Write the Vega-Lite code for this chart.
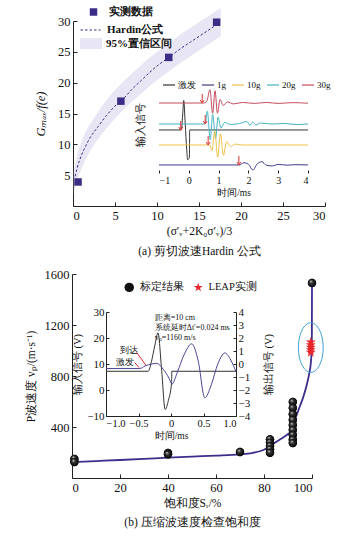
{
  "$schema": "https://vega.github.io/schema/vega-lite/v6.json",
  "width": 360,
  "height": 554,
  "autosize": {"type": "none"},
  "padding": 0,
  "background": "white",
  "config": {
    "view": {"stroke": null},
    "font": "Liberation Serif",
    "axis": {"grid": false, "zindex": 1, "domainColor": "#222", "tickColor": "#222", "labelColor": "#111", "titleColor": "#111", "labelFont": "Liberation Serif", "titleFont": "Liberation Serif", "titleFontWeight": "normal", "labelAngle": 0},
    "legend": {"labelFont": "Liberation Serif", "padding": 0, "title": null, "labelColor": "#111"},
    "text": {"font": "Liberation Serif", "color": "#111"}
  },
  "resolve": {
    "scale": {"x": "independent", "y": "independent", "color": "independent", "shape": "independent", "strokeDash": "independent", "fill": "independent", "stroke": "independent"},
    "axis": {"x": "independent", "y": "independent"}
  },
  "layer": [
    {
      "encoding": {
        "x": {"field": "x", "type": "quantitative", "scale": {"domain": [0, 30], "range": [73, 325], "nice": false, "zero": false},
          "axis": {"orient": "bottom", "offset": -348, "values": [0, 5, 10, 15, 20, 25, 30], "tickSize": -4, "labelPadding": 7, "labelFontSize": 12.5, "title": ["(σ′ᵥ+2K₀σ′ᵥ)/3", "(a) 剪切波速Hardin 公式"], "titleFontSize": 11.5, "titleLineHeight": 20, "titlePadding": 4}},
        "y": {"field": "y", "type": "quantitative", "scale": {"domain": [0, 30], "range": [206, 21], "nice": false, "zero": false},
          "axis": {"orient": "left", "offset": -73, "values": [5, 10, 15, 20, 25, 30], "tickSize": -4, "labelPadding": 7, "labelFontSize": 12.5, "title": "Gₘₐₓ/f(e)", "titleFontStyle": "italic", "titleFontSize": 12.5, "titlePadding": 10}}
      },
      "layer": [
        {
          "data": {"values": [
            {"x": 0.1, "y": 2.0, "y2": 5.6}, {"x": 0.5, "y": 4.1, "y2": 8.3}, {"x": 1, "y": 6.0, "y2": 10.4}, {"x": 2, "y": 8.8, "y2": 13.2},
            {"x": 3, "y": 10.9, "y2": 15.3}, {"x": 4, "y": 12.6, "y2": 17.2}, {"x": 5, "y": 14.2, "y2": 18.8}, {"x": 6, "y": 15.6, "y2": 20.2},
            {"x": 7, "y": 16.9, "y2": 21.5}, {"x": 8, "y": 18.1, "y2": 22.7}, {"x": 9, "y": 19.3, "y2": 23.9}, {"x": 10, "y": 20.4, "y2": 25.0},
            {"x": 11, "y": 21.4, "y2": 26.0}, {"x": 12, "y": 22.4, "y2": 27.0}, {"x": 13, "y": 23.4, "y2": 28.0}, {"x": 14, "y": 24.3, "y2": 28.9},
            {"x": 15, "y": 25.2, "y2": 29.8}, {"x": 16, "y": 26.1, "y2": 30.7}, {"x": 17, "y": 27.0, "y2": 31.6}, {"x": 17.6, "y": 27.5, "y2": 32.1}
          ]},
          "mark": {"type": "area", "interpolate": "monotone", "opacity": 1},
          "encoding": {
            "y2": {"field": "y2"},
            "fill": {"datum": "95%置信区间", "type": "nominal", "scale": {"range": ["#e8e6f5"]},
              "legend": {"orient": "none", "legendX": 80, "legendY": 32.5, "symbolType": "M-1,-0.5H1V0.5H-1Z", "symbolSize": 484, "symbolStrokeWidth": 0, "labelOffset": 4, "labelFontSize": 11, "labelFontWeight": "bold"}}
          }
        },
        {
          "data": {"values": [
            {"x": 0.25, "y": 4.8}, {"x": 0.5, "y": 6.2}, {"x": 1, "y": 8.2}, {"x": 1.5, "y": 9.7}, {"x": 2, "y": 11.0}, {"x": 3, "y": 12.9},
            {"x": 4, "y": 14.7}, {"x": 5, "y": 16.2}, {"x": 6, "y": 17.4}, {"x": 7, "y": 18.9}, {"x": 8, "y": 20.2}, {"x": 9, "y": 21.5},
            {"x": 10, "y": 22.7}, {"x": 11, "y": 23.7}, {"x": 12, "y": 24.7}, {"x": 13, "y": 25.7}, {"x": 14, "y": 26.6}, {"x": 15, "y": 27.5},
            {"x": 16, "y": 28.4}, {"x": 17, "y": 29.4}, {"x": 17.2, "y": 29.7}
          ]},
          "mark": {"type": "line", "color": "#3b2d86", "strokeWidth": 1, "interpolate": "monotone"},
          "encoding": {
            "strokeDash": {"datum": "Hardin公式", "type": "nominal", "scale": {"range": [[2.5, 2]]},
              "legend": {"orient": "none", "legendX": 80, "legendY": 19.5, "symbolType": "stroke", "symbolSize": 400, "symbolStrokeColor": "#3b2d86", "symbolStrokeWidth": 1, "labelOffset": 6, "labelFontSize": 11, "labelFontWeight": "bold"}}
          }
        },
        {
          "data": {"values": [{"x": 0.6, "y": 3.9}, {"x": 5.7, "y": 17.0}, {"x": 11.4, "y": 24.1}, {"x": 17.1, "y": 29.8}]},
          "mark": {"type": "point", "filled": true, "color": "#3b2d86", "size": 56, "opacity": 1},
          "encoding": {
            "shape": {"datum": "实测数据", "type": "nominal", "scale": {"range": ["square"]},
              "legend": {"orient": "none", "legendX": 88, "legendY": 6.5, "symbolSize": 56, "symbolFillColor": "#3b2d86", "symbolStrokeWidth": 0, "labelOffset": 10, "labelFontSize": 11, "labelFontWeight": "bold"}}
          }
        }
      ]
    },
    {
      "encoding": {
        "x": {"field": "t", "type": "quantitative", "scale": {"domain": [-1, 4], "range": [159, 308], "nice": false, "zero": false},
          "axis": {"orient": "bottom", "offset": -381, "values": [-1, 0, 1, 2, 3, 4], "domain": false, "tickSize": -3, "labelPadding": 5, "labelFontSize": 10, "title": "时间/ms", "titleFontSize": 9.5, "titlePadding": 2}},
        "y": {"field": "v", "type": "quantitative", "scale": {"domain": [0, 10], "range": [173, 75], "nice": false, "zero": false},
          "axis": {"orient": "left", "offset": -159, "labels": false, "ticks": false, "domain": false, "title": "输入信号", "titleFontSize": 10.5, "titlePadding": 14}}
      },
      "layer": [
        {
          "data": {"values": [{"box": "inset"}]},
          "mark": {"type": "rect", "fill": "white", "stroke": "#333", "strokeWidth": 0.8},
          "encoding": {"x": {"datum": -1}, "x2": {"datum": 4}, "y": {"datum": 0}, "y2": {"datum": 10}}
        },
        {
          "data": {"values": [
            {"s": "激发", "t": -1, "v": 4.39}, {"s": "激发", "t": -0.25, "v": 4.39}, {"s": "激发", "t": -0.2, "v": 6.2}, {"s": "激发", "t": -0.17, "v": 7.4},
            {"s": "激发", "t": -0.12, "v": 5.0}, {"s": "激发", "t": -0.07, "v": 2.4}, {"s": "激发", "t": -0.04, "v": 1.35}, {"s": "激发", "t": 0.02, "v": 1.6},
            {"s": "激发", "t": 0.03, "v": 4.39}, {"s": "激发", "t": 4, "v": 4.39},
            {"s": "30g", "t": -1, "v": 7.14}, {"s": "30g", "t": 0.5, "v": 7.14}, {"s": "30g", "t": 0.6, "v": 7.3}, {"s": "30g", "t": 0.71, "v": 8.5},
            {"s": "30g", "t": 0.8, "v": 6.1}, {"s": "30g", "t": 0.88, "v": 8.4}, {"s": "30g", "t": 0.96, "v": 6.1}, {"s": "30g", "t": 1.05, "v": 7.5},
            {"s": "30g", "t": 1.15, "v": 6.9}, {"s": "30g", "t": 1.3, "v": 7.25}, {"s": "30g", "t": 1.5, "v": 7.05}, {"s": "30g", "t": 1.8, "v": 7.2},
            {"s": "30g", "t": 2.2, "v": 7.1}, {"s": "30g", "t": 2.6, "v": 7.2}, {"s": "30g", "t": 3.0, "v": 7.1}, {"s": "30g", "t": 3.5, "v": 7.18}, {"s": "30g", "t": 4, "v": 7.12},
            {"s": "20g", "t": -1, "v": 5.0}, {"s": "20g", "t": 0.55, "v": 5.0}, {"s": "20g", "t": 0.62, "v": 6.3}, {"s": "20g", "t": 0.72, "v": 3.4},
            {"s": "20g", "t": 0.8, "v": 6.0}, {"s": "20g", "t": 0.9, "v": 3.5}, {"s": "20g", "t": 0.98, "v": 5.7}, {"s": "20g", "t": 1.08, "v": 4.6},
            {"s": "20g", "t": 1.2, "v": 5.15}, {"s": "20g", "t": 1.4, "v": 4.95}, {"s": "20g", "t": 1.7, "v": 5.05}, {"s": "20g", "t": 1.95, "v": 5.25},
            {"s": "20g", "t": 2.05, "v": 4.85}, {"s": "20g", "t": 2.15, "v": 5.2}, {"s": "20g", "t": 2.25, "v": 4.9}, {"s": "20g", "t": 2.4, "v": 5.1},
            {"s": "20g", "t": 2.8, "v": 5.0}, {"s": "20g", "t": 3.2, "v": 5.05}, {"s": "20g", "t": 3.6, "v": 4.95}, {"s": "20g", "t": 4, "v": 5.0},
            {"s": "10g", "t": -1, "v": 2.86}, {"s": "10g", "t": 0.7, "v": 2.86}, {"s": "10g", "t": 0.78, "v": 2.3}, {"s": "10g", "t": 0.87, "v": 4.3},
            {"s": "10g", "t": 0.97, "v": 1.6}, {"s": "10g", "t": 1.06, "v": 4.0}, {"s": "10g", "t": 1.16, "v": 1.8}, {"s": "10g", "t": 1.27, "v": 3.2},
            {"s": "10g", "t": 1.4, "v": 2.7}, {"s": "10g", "t": 1.55, "v": 2.95}, {"s": "10g", "t": 1.8, "v": 2.86}, {"s": "10g", "t": 4, "v": 2.86},
            {"s": "1g", "t": -1, "v": 0.82}, {"s": "1g", "t": 1.7, "v": 0.82}, {"s": "1g", "t": 1.85, "v": 1.05}, {"s": "1g", "t": 2.0, "v": 0.9},
            {"s": "1g", "t": 2.15, "v": 0.3}, {"s": "1g", "t": 2.3, "v": 0.95}, {"s": "1g", "t": 2.45, "v": 1.15}, {"s": "1g", "t": 2.6, "v": 0.8},
            {"s": "1g", "t": 2.8, "v": 0.72}, {"s": "1g", "t": 3.0, "v": 0.88}, {"s": "1g", "t": 3.3, "v": 0.8}, {"s": "1g", "t": 3.6, "v": 0.85}, {"s": "1g", "t": 4, "v": 0.82}
          ]},
          "mark": {"type": "line", "strokeWidth": 1, "interpolate": "monotone"},
          "encoding": {
            "stroke": {"field": "s", "type": "nominal", "scale": {"domain": ["激发", "1g", "10g", "20g", "30g"], "range": ["#333333", "#3d3b8e", "#f0c24a", "#45b3c4", "#c44e5c"]},
              "legend": {"orient": "none", "legendX": 162, "legendY": 78, "direction": "horizontal", "symbolType": "stroke", "symbolSize": 144, "symbolStrokeWidth": 1.2, "labelFontSize": 9, "labelOffset": 2, "columnPadding": 3}}
          }
        },
        {
          "data": {"values": [{"t": -0.27, "v": 4.85}, {"t": 0.45, "v": 7.6}, {"t": 0.55, "v": 5.46}, {"t": 0.65, "v": 3.32}, {"t": 1.68, "v": 1.28}]},
          "mark": {"type": "point", "shape": "M0,-1L0,1M-0.45,0.35L0,1L0.45,0.35", "filled": false, "stroke": "#e03030", "strokeWidth": 1, "size": 81, "opacity": 1}
        },
        {
          "data": {"values": [{"label": "输出信号"}]},
          "mark": {"type": "text", "angle": 270, "fontSize": 10.5, "align": "center", "baseline": "middle"},
          "encoding": {"x": {"datum": 4.33}, "y": {"datum": 5}, "text": {"field": "label"}}
        }
      ]
    },
    {
      "encoding": {
        "x": {"field": "x", "type": "quantitative", "scale": {"domain": [0, 100], "range": [72, 312], "nice": false, "zero": false},
          "axis": {"orient": "bottom", "offset": -76, "values": [0, 20, 40, 60, 80, 100], "tickSize": -4, "labelPadding": 7, "labelFontSize": 12.5, "title": ["饱和度Sᵣ/%", "(b) 压缩波速度检查饱和度"], "titleFontSize": 11.5, "titleLineHeight": 19, "titlePadding": 4}},
        "y": {"field": "y", "type": "quantitative", "scale": {"domain": [0, 1600], "range": [478, 274], "nice": false, "zero": false},
          "axis": {"orient": "left", "offset": -72, "values": [400, 800, 1200, 1600], "format": "d", "tickSize": -4, "labelPadding": 7, "labelFontSize": 12.5, "title": "P波速度 vₚ/(m·s⁻¹)", "titleFontSize": 11.5, "titlePadding": 8}}
      },
      "layer": [
        {
          "data": {"values": [
            {"x": 0, "y": 125}, {"x": 10, "y": 133}, {"x": 20, "y": 141}, {"x": 30, "y": 150}, {"x": 40, "y": 160}, {"x": 50, "y": 168},
            {"x": 60, "y": 175}, {"x": 70, "y": 185}, {"x": 75, "y": 196}, {"x": 80, "y": 222}, {"x": 82.5, "y": 250}, {"x": 85, "y": 282},
            {"x": 88, "y": 318}, {"x": 90, "y": 345}, {"x": 91, "y": 362}, {"x": 92, "y": 410}, {"x": 93, "y": 465}, {"x": 94, "y": 515},
            {"x": 95, "y": 565}, {"x": 96, "y": 615}, {"x": 97, "y": 675}, {"x": 98, "y": 745}, {"x": 99, "y": 835}, {"x": 99.5, "y": 900},
            {"x": 99.85, "y": 1000}, {"x": 99.95, "y": 1150}, {"x": 100, "y": 1530}
          ]},
          "mark": {"type": "line", "color": "#3a2f8c", "strokeWidth": 1.8, "interpolate": "monotone"}
        },
        {
          "data": {"name": "spheres", "values": [
            {"x": 1, "y": 150}, {"x": 1, "y": 125}, {"x": 40, "y": 196}, {"x": 40, "y": 186}, {"x": 70, "y": 204},
            {"x": 82.5, "y": 303}, {"x": 82.5, "y": 277}, {"x": 82.5, "y": 251}, {"x": 82.5, "y": 225}, {"x": 82.5, "y": 198},
            {"x": 92, "y": 596}, {"x": 92, "y": 549}, {"x": 92, "y": 500}, {"x": 92, "y": 455}, {"x": 92, "y": 415}, {"x": 92, "y": 376},
            {"x": 92, "y": 337}, {"x": 92, "y": 300}, {"x": 92, "y": 274}, {"x": 100, "y": 1530}
          ]},
          "mark": {"type": "point", "filled": true, "size": 70, "opacity": 1, "strokeWidth": 0},
          "encoding": {
            "shape": {"datum": "标定结果", "type": "nominal", "scale": {"domain": ["标定结果", "LEAP实测"], "range": ["circle", "M0,-1L0.225,-0.309L0.951,-0.309L0.363,0.118L0.588,0.809L0,0.382L-0.588,0.809L-0.363,0.118L-0.951,-0.309L-0.225,-0.309Z"]},
              "legend": {"orient": "none", "legendX": 124, "legendY": 282, "direction": "horizontal", "symbolSize": 90, "symbolStrokeWidth": 0, "labelFontSize": 10.5, "labelOffset": 5, "columnPadding": 9}},
            "color": {"datum": "标定结果", "type": "nominal", "scale": {"domain": ["标定结果", "LEAP实测"], "range": ["#111111", "#e8262b"]},
              "legend": {"orient": "none", "legendX": 124, "legendY": 282, "direction": "horizontal", "symbolSize": 90, "symbolStrokeWidth": 0, "labelFontSize": 10.5, "labelOffset": 5, "columnPadding": 9}}
          }
        },
        {
          "data": {"values": [{"x": 99.5, "y": 1065}, {"x": 99.5, "y": 1045}, {"x": 99.5, "y": 1025}, {"x": 99.5, "y": 1005}, {"x": 99.5, "y": 985}]},
          "mark": {"type": "point", "filled": true, "size": 110, "opacity": 1, "strokeWidth": 0},
          "encoding": {
            "shape": {"datum": "LEAP实测", "type": "nominal", "scale": {"domain": ["标定结果", "LEAP实测"], "range": ["circle", "M0,-1L0.225,-0.309L0.951,-0.309L0.363,0.118L0.588,0.809L0,0.382L-0.588,0.809L-0.363,0.118L-0.951,-0.309L-0.225,-0.309Z"]},
              "legend": {"orient": "none", "legendX": 124, "legendY": 282, "direction": "horizontal", "symbolSize": 90, "symbolStrokeWidth": 0, "labelFontSize": 10.5, "labelOffset": 5, "columnPadding": 9}},
            "color": {"datum": "LEAP实测", "type": "nominal", "scale": {"domain": ["标定结果", "LEAP实测"], "range": ["#111111", "#e8262b"]},
              "legend": {"orient": "none", "legendX": 124, "legendY": 282, "direction": "horizontal", "symbolSize": 90, "symbolStrokeWidth": 0, "labelFontSize": 10.5, "labelOffset": 5, "columnPadding": 9}}
          }
        },
        {
          "data": {"name": "spheres"},
          "mark": {"type": "point", "filled": true, "size": 70, "opacity": 1, "strokeWidth": 0,
            "fill": {"gradient": "radial", "x1": 0.35, "y1": 0.3, "r1": 0, "x2": 0.5, "y2": 0.5, "r2": 0.55, "stops": [{"offset": 0, "color": "#e8e8e8"}, {"offset": 0.35, "color": "#333333"}, {"offset": 1, "color": "#000000"}]}}
        },
        {
          "data": {"values": [{"x": 99.5, "y": 1023}]},
          "mark": {"type": "point", "shape": "M-0.5,0A0.5,1,0,1,0,0.5,0A0.5,1,0,1,0,-0.5,0Z", "filled": false, "stroke": "#3d9fd6", "strokeWidth": 1, "size": 2450, "opacity": 1}
        },
        {
          "data": {"values": [{"label": "Sᵣ≈99.5%"}]},
          "mark": {"type": "text", "fontSize": 12.5, "align": "left", "baseline": "middle"},
          "encoding": {"x": {"datum": 77}, "y": {"datum": 1262}, "text": {"field": "label"}}
        }
      ]
    },
    {
      "resolve": {"scale": {"y": "independent"}, "axis": {"y": "independent"}},
      "layer": [
        {
          "encoding": {
            "x": {"field": "t", "type": "quantitative", "scale": {"domain": [-1, 1], "range": [106, 236], "nice": false, "zero": false},
              "axis": {"orient": "bottom", "offset": -138, "values": [-1, -0.5, 0, 0.5, 1], "labelExpr": "datum.value == 0 ? '0' : format(datum.value, '.1f')", "tickSize": -3, "labelPadding": 5, "labelFontSize": 10.5, "title": "时间/ms", "titleFontSize": 9.5, "titlePadding": 2}},
            "y": {"field": "v", "type": "quantitative", "scale": {"domain": [-10, 30], "range": [416, 312], "nice": false, "zero": false},
              "axis": {"orient": "left", "offset": -106, "values": [-10, 0, 10, 20, 30], "tickSize": -3, "labelPadding": 5, "labelFontSize": 11, "title": "输入信号 (V)", "titleFontSize": 10.5, "titlePadding": 4}}
          },
          "layer": [
            {
              "data": {"values": [
                {"t": -1, "v": 7.2}, {"t": -0.35, "v": 7.2}, {"t": -0.3, "v": 11}, {"t": -0.25, "v": 17}, {"t": -0.2, "v": 22},
                {"t": -0.145, "v": 8}, {"t": -0.09, "v": -7.5}, {"t": -0.04, "v": -4}, {"t": 0.01, "v": 3}, {"t": 0.012, "v": 7.2}, {"t": 1, "v": 7.2}
              ]},
              "mark": {"type": "line", "color": "#333333", "strokeWidth": 1, "interpolate": "monotone"}
            },
            {
              "data": {"values": [{"t": -0.49}, {"t": -0.35}]},
              "mark": {"type": "rule", "color": "#e03030", "strokeWidth": 0.8, "strokeDash": [3, 2]},
              "encoding": {"y": {"datum": -10}, "y2": {"datum": 8}}
            },
            {
              "data": {"values": [
                {"t": -0.53, "v": 14.5, "t2": -0.38, "v2": 9.3},
                {"t": -0.56, "v": 10.6, "t2": -0.49, "v2": 8.6}
              ]},
              "mark": {"type": "rule", "color": "#e03030", "strokeWidth": 1},
              "encoding": {"x2": {"field": "t2"}, "y2": {"field": "v2"}}
            },
            {
              "data": {"values": [{"label": "到达", "t": -0.65, "v": 15.4}, {"label": "激发", "t": -0.71, "v": 10.8}]},
              "mark": {"type": "text", "fontSize": 9, "align": "center", "baseline": "middle"},
              "encoding": {"text": {"field": "label"}}
            },
            {
              "data": {"values": [{"label": "距离=10 cm", "t": -0.25, "v": 27.7}, {"label": "系统延时Δt′=0.024 ms", "t": -0.25, "v": 23.9}, {"label": "vₚ=1160 m/s", "t": -0.25, "v": 20.1}]},
              "mark": {"type": "text", "fontSize": 8, "align": "left", "baseline": "middle"},
              "encoding": {"text": {"field": "label"}}
            },
            {
              "data": {"values": [{"label": "Δt=0.11 ms"}]},
              "mark": {"type": "text", "fontSize": 8, "align": "right", "baseline": "middle"},
              "encoding": {"x": {"datum": -0.6}, "y": {"datum": 0.8}, "text": {"field": "label"}}
            },
            {
              "data": {"values": [{"t": -0.6, "t2": -0.49}, {"t": -0.35, "t2": -0.24}]},
              "mark": {"type": "rule", "color": "#222", "strokeWidth": 0.8},
              "encoding": {"x2": {"field": "t2"}, "y": {"datum": 0.8}}
            },
            {
              "data": {"values": [{"t": -0.515, "dir": "r"}, {"t": -0.325, "dir": "l"}]},
              "mark": {"type": "point", "filled": true, "color": "#222", "size": 14, "opacity": 1},
              "encoding": {"y": {"datum": 0.8}, "shape": {"field": "dir", "type": "nominal", "scale": {"domain": ["r", "l"], "range": ["triangle-right", "triangle-left"]}, "legend": null}}
            }
          ]
        },
        {
          "data": {"values": [
            {"t": -1, "v": -0.35}, {"t": -0.48, "v": -0.35}, {"t": -0.4, "v": -0.15}, {"t": -0.3, "v": 0.0}, {"t": -0.22, "v": 0.05},
            {"t": -0.12, "v": -0.4}, {"t": -0.03, "v": -1.1}, {"t": 0.015, "v": -1.55}, {"t": 0.1, "v": -0.6}, {"t": 0.2, "v": 0.7},
            {"t": 0.32, "v": 1.55}, {"t": 0.42, "v": 0.2}, {"t": 0.52, "v": -2.6}, {"t": 0.62, "v": -1.6}, {"t": 0.72, "v": 0.0},
            {"t": 0.83, "v": 0.85}, {"t": 0.92, "v": 0.3}, {"t": 1.0, "v": -0.6}
          ]},
          "mark": {"type": "line", "color": "#4a4796", "strokeWidth": 1, "interpolate": "monotone"},
          "encoding": {
            "x": {"field": "t", "type": "quantitative", "scale": {"domain": [-1, 1], "range": [106, 236], "nice": false, "zero": false},
              "axis": {"orient": "bottom", "offset": -138, "values": [-1, -0.5, 0, 0.5, 1], "labelExpr": "datum.value == 0 ? '0' : format(datum.value, '.1f')", "tickSize": -3, "labelPadding": 5, "labelFontSize": 10.5, "title": "时间/ms", "titleFontSize": 9.5, "titlePadding": 2}},
            "y": {"field": "v", "type": "quantitative", "scale": {"domain": [-4, 4], "range": [416, 312], "nice": false, "zero": false},
              "axis": {"orient": "right", "offset": -124, "values": [-4, -3, -2, -1, 0, 1, 2, 3, 4], "tickSize": -3, "labelPadding": 5, "labelFontSize": 11, "title": "输出信号 (V)", "titleAngle": 270, "titleFontSize": 10.5, "titlePadding": 24}}
          }
        }
      ]
    }
  ]
}
